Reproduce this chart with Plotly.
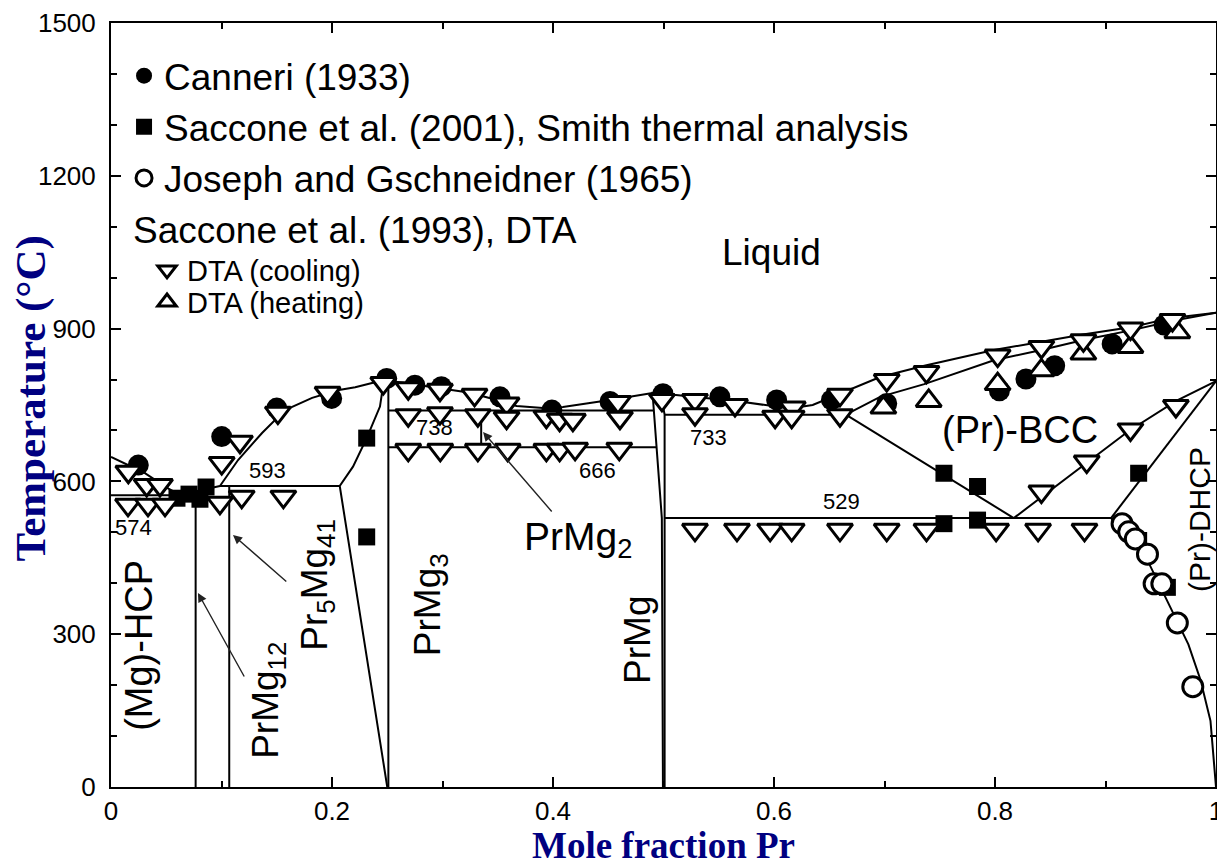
import plotly.graph_objects as go

# ---------------- Phase boundary lines (mole fraction Pr, temperature in C) -------------
liq_mg_x = [0.0, 0.03, 0.052, 0.062, 0.08, 0.0986]
liq_mg_t = [648, 617, 586, 574, 582, 591]
liq_p3_x = [0.0986, 0.115, 0.1367, 0.1575, 0.182, 0.205, 0.221, 0.247]
liq_p3_t = [591, 642, 695, 740, 764, 779, 785, 799]
liq_mid_x = [0.247, 0.2887, 0.325, 0.349, 0.367, 0.391, 0.409, 0.4516, 0.49, 0.497]
liq_mid_t = [799, 785, 774, 760, 748, 744, 746, 760, 774, 776]
liq_pr_x = [0.497, 0.509, 0.569, 0.6145, 0.635, 0.66, 0.696, 0.736, 0.799, 0.842, 0.881, 0.924, 0.96, 1.0]
liq_pr_t = [776, 770, 757, 743, 750, 772, 805, 827, 858, 874, 889, 903, 921, 931]
sol_bcc_x = [0.665, 0.696, 0.736, 0.799, 0.842, 0.881, 0.924, 0.962, 1.0]
sol_bcc_t = [731, 766, 791, 838, 858, 878, 897, 916, 931]
bcc_left_x = [0.665, 0.817]
bcc_left_t = [731, 528]
bcc_right_x = [0.817, 0.885, 0.921, 0.964, 1.0]
bcc_right_t = [528, 639, 699, 758, 797]
dhcp_bcc_x = [0.905, 1.0]
dhcp_bcc_t = [528, 797]
dhcp_solvus_x = [0.905, 0.925, 0.94, 0.962, 0.975, 0.986, 0.995, 1.0]
dhcp_solvus_t = [528, 480, 436, 337, 280, 210, 130, 0]
eut574_x = [0.0, 0.0766]
eut574_t = [573, 573]
per593_x = [0.0986, 0.207]
per593_t = [591, 591]
prmg12_x = [0.0766, 0.0766]
prmg12_t = [0, 580]
pr5mg41_x = [0.107, 0.107]
pr5mg41_t = [0, 591]
prmg3_left_x = [0.25, 0.207, 0.219, 0.2314, 0.2434, 0.247]
prmg3_left_t = [0, 591, 629, 685, 747, 799]
prmg3_right_x = [0.251, 0.251]
prmg3_right_t = [0, 799]
h738_x = [0.251, 0.4915]
h738_t = [739, 739]
h666_x = [0.251, 0.4935]
h666_t = [667, 667]
prmg2_x = [0.335, 0.335]
prmg2_t = [667, 739]
prmg_left_x = [0.49, 0.4985, 0.4995]
prmg_left_t = [776, 528, 0]
prmg_right_x = [0.497, 0.501, 0.501]
prmg_right_t = [776, 731, 0]
h733_x = [0.501, 0.665]
h733_t = [731, 731]
h529_x = [0.501, 0.905]
h529_t = [528, 528]

# ---------------- Experimental data ----------------
canneri_x = [0.0247, 0.1002, 0.150, 0.1997, 0.2495, 0.275, 0.299, 0.352, 0.399, 0.4516, 0.4995,
             0.551, 0.6024, 0.652, 0.702, 0.804, 0.828, 0.854, 0.906, 0.953]
canneri_t = [632, 688, 744, 763, 802, 789, 786, 766, 740, 757, 772,
             766, 760, 760, 753, 778, 801, 827, 870, 907]

sac2001_x = [0.0597, 0.0706, 0.0805, 0.086, 0.2314, 0.2314, 0.7538, 0.7842, 0.7538, 0.7842, 0.930, 0.930, 0.956]
sac2001_t = [567, 575, 565, 589, 685, 491, 616, 590, 517, 524, 616, 484, 392]

joseph_x = [0.915, 0.921, 0.927, 0.938, 0.944, 0.951, 0.965, 0.979]
joseph_t = [517, 501, 487, 457, 399, 399, 322, 197]

cool_x = [0.0157, 0.0323, 0.0443, 0.0154, 0.0335, 0.0489, 0.1002, 0.1167, 0.151, 0.196, 0.0986, 0.1183, 0.156,
          0.2464, 0.269, 0.2977, 0.329, 0.358, 0.4588, 0.4986,
          0.269, 0.2977, 0.332, 0.358, 0.394, 0.406, 0.418, 0.4606,
          0.269, 0.298, 0.332, 0.359, 0.394, 0.406, 0.42, 0.46,
          0.5285, 0.5285, 0.5647, 0.601, 0.617, 0.616, 0.6597, 0.6597, 0.702, 0.738,
          0.8024, 0.842, 0.88, 0.9226, 0.9606,
          0.842, 0.883, 0.9226, 0.9637,
          0.5285, 0.5665, 0.5965, 0.616, 0.6597, 0.702, 0.738, 0.801, 0.839, 0.881]
cool_t = [619, 593, 593, 554, 554, 554, 636, 678, 735, 774, 558, 570, 570,
          793, 783, 780, 770, 753, 756, 760,
          730, 734, 730, 725, 727, 721, 721, 725,
          662, 662, 662, 662, 662, 662, 664, 664,
          760, 732, 750, 727, 745, 727, 770, 730, 799, 815,
          847, 864, 877, 900, 917,
          580, 639, 702, 748,
          505, 505, 505, 505, 505, 505, 505, 505, 505, 505]

heat_x = [0.699, 0.74, 0.8024, 0.842, 0.88, 0.9226, 0.965]
heat_t = [745, 758, 791, 818, 851, 864, 893]

x_tickvals = [0, 0.2, 0.4, 0.6, 0.8, 1.0]
x_ticktext = ["0", "0.2", "0.4", "0.6", "0.8", "1"]
x_minor = [0.1, 0.3, 0.5, 0.7, 0.9]
y_tickvals = [0, 300, 600, 900, 1200, 1500]
y_ticktext = ["0", "300", "600", "900", "1200", "1500"]

lines = [
    (liq_mg_x, liq_mg_t), (liq_p3_x, liq_p3_t), (liq_mid_x, liq_mid_t), (liq_pr_x, liq_pr_t),
    (sol_bcc_x, sol_bcc_t), (bcc_left_x, bcc_left_t), (bcc_right_x, bcc_right_t),
    (dhcp_bcc_x, dhcp_bcc_t), (dhcp_solvus_x, dhcp_solvus_t), (eut574_x, eut574_t),
    (per593_x, per593_t), (prmg12_x, prmg12_t), (pr5mg41_x, pr5mg41_t),
    (prmg3_left_x, prmg3_left_t), (prmg3_right_x, prmg3_right_t), (h738_x, h738_t),
    (h666_x, h666_t), (prmg2_x, prmg2_t), (prmg_left_x, prmg_left_t),
    (prmg_right_x, prmg_right_t), (h733_x, h733_t), (h529_x, h529_t),
]

SANS = "Liberation Sans, Arial, sans-serif"
SERIF = "Liberation Serif, Times New Roman, serif"
NAVY = "#000080"

fig = go.Figure()
for lx, lt in lines:
    fig.add_trace(go.Scatter(x=lx, y=lt, mode="lines", line=dict(color="black", width=2),
                             showlegend=False, hoverinfo="skip"))

fig.add_trace(go.Scatter(x=canneri_x, y=canneri_t, mode="markers", name="Canneri (1933)",
                         marker=dict(symbol="circle", size=21, color="black"),
                         legend="legend", legendgroup="a"))
fig.add_trace(go.Scatter(x=sac2001_x, y=sac2001_t, mode="markers",
                         name="Saccone et al. (2001), Smith thermal analysis",
                         marker=dict(symbol="square", size=17, color="black"),
                         legend="legend", legendgroup="b"))
fig.add_trace(go.Scatter(x=joseph_x, y=joseph_t, mode="markers", name="Joseph and Gschneidner (1965)",
                         marker=dict(symbol="circle", size=20, color="white",
                                     line=dict(color="black", width=3)),
                         legend="legend", legendgroup="c"))
fig.add_trace(go.Scatter(x=heat_x, y=heat_t, mode="markers", name="DTA (heating)",
                         marker=dict(symbol="triangle-up", size=22, color="white",
                                     line=dict(color="black", width=3)),
                         legend="legend3"))
fig.add_trace(go.Scatter(x=cool_x, y=cool_t, mode="markers", name="DTA (cooling)",
                         marker=dict(symbol="triangle-down", size=22, color="white",
                                     line=dict(color="black", width=3)),
                         legend="legend2"))

ann = []
def label(text, x, y, size, angle=0):
    ann.append(dict(text=text, x=x, y=y, xref="x", yref="y", showarrow=False, textangle=angle,
                    font=dict(family=SANS, size=size, color="black")))

label("(Mg)-HCP", 0.0253, 279, 38, -90)
label("PrMg<sub>12</sub>", 0.142, 171, 37, -90)
label("Pr<sub>5</sub>Mg<sub>41</sub>", 0.1864, 397, 37, -90)
label("PrMg<sub>3</sub>", 0.2887, 357, 37, -90)
label("PrMg", 0.477, 289, 37, -90)
label("PrMg<sub>2</sub>", 0.4226, 485, 39)
label("Liquid", 0.598, 1050, 37)
label("(Pr)-BCC", 0.8226, 701, 38)
label("(Pr)-DHCP", 0.9846, 526, 30, -90)
for t, x, y in [("593", 0.142, 622), ("574", 0.0208, 510), ("738", 0.293, 705),
                ("666", 0.4407, 622), ("733", 0.5403, 687), ("529", 0.6615, 560)]:
    label(t, x, y, 22)

for hx, hy, tx, ty in [(0.0787, 381, 0.1213, 214), (0.1104, 495, 0.160, 401), (0.3367, 697, 0.40, 538)]:
    ann.append(dict(x=hx, y=hy, ax=tx, ay=ty, xref="x", yref="y", axref="x", ayref="y", text="",
                    showarrow=True, arrowhead=2, arrowsize=1.3, arrowwidth=1.4, arrowcolor="#222"))

# legend sub-heading and axis titles
ann.append(dict(text="Saccone et al. (1993), DTA", xref="paper", yref="paper", x=0.018, y=0.729,
                xanchor="left", yanchor="middle", showarrow=False,
                font=dict(family=SANS, size=37, color="black")))
ann.append(dict(text="<b>Mole fraction Pr</b>", xref="paper", yref="paper", x=0.5, y=-0.076,
                xanchor="center", yanchor="middle", showarrow=False,
                font=dict(family=SERIF, size=37, color=NAVY)))
ann.append(dict(text="<b>Temperature (°C)</b>", xref="paper", yref="paper", x=-0.072, y=0.509,
                xanchor="center", yanchor="middle", showarrow=False, textangle=-90,
                font=dict(family=SERIF, size=43, color=NAVY)))

leg_common = dict(xanchor="left", yanchor="top", bgcolor="rgba(0,0,0,0)", itemsizing="trace")
# The page body adds an 8px offset, so the figure is 8px smaller and margins shifted accordingly.
fig.update_layout(
    width=1217, height=857,
    margin=dict(l=103, r=9, t=15, b=78),
    paper_bgcolor="white", plot_bgcolor="white",
    annotations=ann,
    showlegend=True,
    legend=dict(x=0.0118, y=0.971, font=dict(family=SANS, size=37, color="black"),
                tracegroupgap=0, **leg_common),
    legend2=dict(x=0.0326, y=0.710, font=dict(family=SANS, size=29, color="black"), **leg_common),
    legend3=dict(x=0.0326, y=0.668, font=dict(family=SANS, size=29, color="black"), **leg_common),
    xaxis=dict(range=[0, 1], tickvals=x_tickvals, ticktext=x_ticktext, ticks="inside",
               ticklen=10, tickwidth=2, tickcolor="black", showline=True, linewidth=2,
               linecolor="black", mirror="ticks", showgrid=False, zeroline=False, automargin=False,
               minor=dict(tickvals=x_minor, ticks="inside", ticklen=6, tickwidth=2, tickcolor="black"),
               tickfont=dict(family=SANS, size=26, color="black")),
    yaxis=dict(range=[0, 1500], tickvals=y_tickvals, ticktext=y_ticktext, ticks="inside",
               ticklen=10, tickwidth=2, tickcolor="black", showline=True, linewidth=2,
               linecolor="black", mirror="ticks", showgrid=False, zeroline=False, automargin=False,
               ticklabelstandoff=8,
               minor=dict(dtick=100, ticks="inside", ticklen=6, tickwidth=2, tickcolor="black"),
               tickfont=dict(family=SANS, size=26, color="black")),
)

fig.write_html("out.html")
